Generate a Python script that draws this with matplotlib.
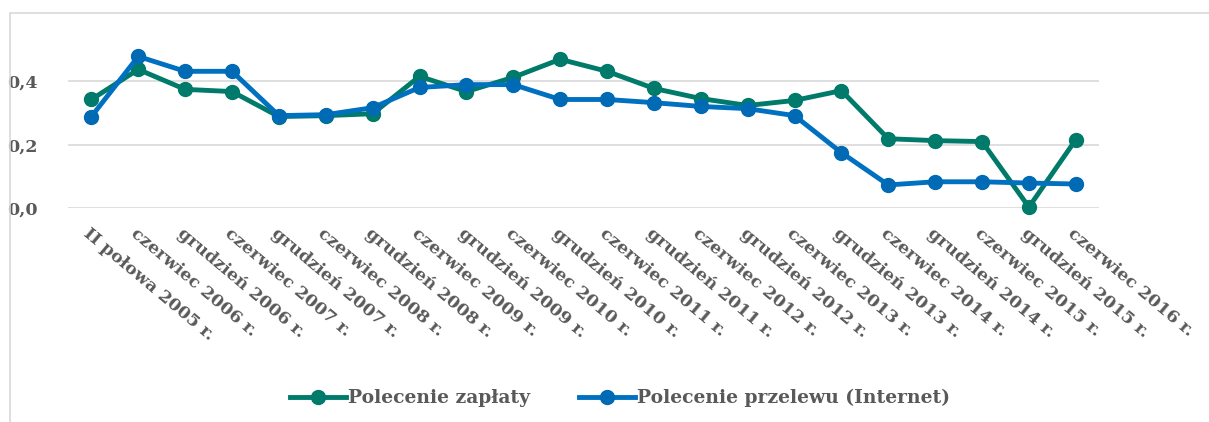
import matplotlib.pyplot as plt
import matplotlib.patches as mpatches
from matplotlib.ticker import FuncFormatter

categories = [
    'II połowa 2005 r.', 'czerwiec 2006 r.', 'grudzień 2006 r.', 'czerwiec 2007 r.',
    'grudzień 2007 r.', 'czerwiec 2008 r.', 'grudzień 2008 r.', 'czerwiec 2009 r.',
    'grudzień 2009 r.', 'czerwiec 2010 r.', 'grudzień 2010 r.', 'czerwiec 2011 r.',
    'grudzień 2011 r.', 'czerwiec 2012 r.', 'grudzień 2012 r.', 'czerwiec 2013 r.',
    'grudzień 2013 r.', 'czerwiec 2014 r.', 'grudzień 2014 r.', 'czerwiec 2015 r.',
    'grudzień 2015 r.', 'czerwiec 2016 r.',
]
zaplaty = [0.343, 0.438, 0.375, 0.368, 0.289, 0.292, 0.298, 0.416, 0.368, 0.413, 0.470,
           0.432, 0.378, 0.346, 0.324, 0.340, 0.371, 0.219, 0.213, 0.210, 0.003, 0.216]
przelewu = [0.289, 0.479, 0.432, 0.432, 0.292, 0.295, 0.317, 0.381, 0.390, 0.390, 0.343,
            0.343, 0.333, 0.321, 0.314, 0.292, 0.175, 0.073, 0.083, 0.083, 0.079, 0.076]

green = '#007A6A'
blue = '#0070C0'
text_col = '#595959'

plt.rcParams['font.family'] = ['DejaVu Serif']
plt.rcParams['font.weight'] = 'bold'

fig = plt.figure(figsize=(12.09, 4.22), dpi=100)
ax = fig.add_axes([0.0562, 0.507, 0.853, 0.375])

x = range(len(categories))
ax.plot(x, zaplaty, color=green, lw=3.5, marker='o', ms=10, label='Polecenie zapłaty',
        clip_on=False, zorder=3)
ax.plot(x, przelewu, color=blue, lw=3.5, marker='o', ms=10, mfc='#006AB5', mec='#006AB5',
        label='Polecenie przelewu (Internet)', clip_on=False, zorder=4)

ax.set_xlim(-0.5, len(categories) - 0.5)
ax.set_ylim(0, 0.5)
ax.set_yticks([0.0, 0.2, 0.4])
ax.yaxis.set_major_formatter(FuncFormatter(lambda v, p: f'{v:.1f}'.replace('.', ',')))
ax.grid(axis='y', color='#d9d9d9', lw=1.2)
ax.set_axisbelow(True)
for s in ax.spines.values():
    s.set_visible(False)
ax.tick_params(length=0, labelsize=12.5, colors=text_col, pad=22)
ax.tick_params(axis='x', pad=12)

ax.set_xticks(list(x))
ax.set_xticklabels(categories, rotation=-40, ha='left', va='top', rotation_mode='anchor',
                   fontsize=12.5, color=text_col)

fig.legend(loc='lower center', bbox_to_anchor=(0.513, -0.005), ncol=2, frameon=False,
           fontsize=13.5, labelcolor=text_col, handlelength=3.0, handletextpad=0.1,
           columnspacing=2.6)

fig.patches.append(mpatches.Rectangle((10 / 1209, -0.01), 1.1, 1 - 13 / 422 + 0.01,
                                      transform=fig.transFigure, fill=False,
                                      edgecolor='#d9d9d9', lw=1.2))

fig.savefig('out.png', dpi=100)
